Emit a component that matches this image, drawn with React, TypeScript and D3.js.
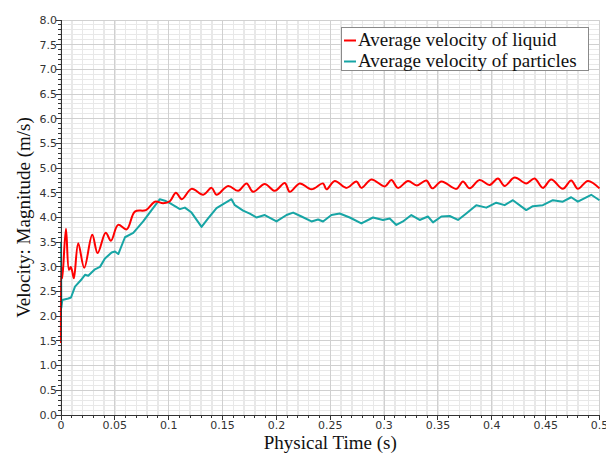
import React from 'react';
import * as d3 from 'd3';

const width = 606;
const height = 459;
const margin = { left: 61, right: 6, top: 20, bottom: 44 };

// time (s), velocity magnitude (m/s)
const liquidTime = [0, 0.0003, 0.0012, 0.0046, 0.0074, 0.009, 0.0105, 0.012, 0.016, 0.0216, 0.029, 0.034, 0.0415, 0.0464, 0.053, 0.061, 0.0686, 0.0789, 0.0872, 0.0949, 0.1011, 0.1067, 0.1122, 0.1212, 0.132, 0.1398, 0.1444, 0.1552, 0.1645, 0.1723, 0.1784, 0.1892, 0.1985, 0.2078, 0.2124, 0.2217, 0.2326, 0.2433, 0.2465, 0.2542, 0.265, 0.2743, 0.279, 0.2882, 0.3006, 0.3068, 0.3129, 0.3222, 0.3305, 0.3392, 0.3448, 0.3532, 0.3671, 0.3732, 0.3794, 0.3887, 0.398, 0.4057, 0.4119, 0.4212, 0.432, 0.4397, 0.4474, 0.4552, 0.4659, 0.4737, 0.4799, 0.4892, 0.5];
const liquidVel = [1.46, 3.0, 2.77, 3.77, 2.94, 3.0, 2.9, 2.77, 3.48, 2.98, 3.65, 3.28, 3.69, 3.53, 3.85, 3.76, 4.12, 4.15, 4.32, 4.29, 4.33, 4.5, 4.37, 4.58, 4.46, 4.6, 4.46, 4.64, 4.54, 4.69, 4.52, 4.68, 4.54, 4.7, 4.52, 4.69, 4.57, 4.69, 4.57, 4.74, 4.6, 4.73, 4.6, 4.77, 4.63, 4.76, 4.6, 4.74, 4.65, 4.75, 4.59, 4.73, 4.58, 4.73, 4.59, 4.76, 4.66, 4.79, 4.64, 4.81, 4.69, 4.79, 4.6, 4.77, 4.58, 4.75, 4.58, 4.74, 4.59];

const particleTime = [0, 0.0003, 0.0012, 0.0068, 0.0093, 0.013, 0.0192, 0.0223, 0.0253, 0.0315, 0.0362, 0.0408, 0.047, 0.0501, 0.0532, 0.0594, 0.0671, 0.0763, 0.0841, 0.0918, 0.0965, 0.1011, 0.1104, 0.115, 0.1212, 0.1305, 0.1366, 0.1444, 0.1521, 0.1583, 0.1614, 0.1691, 0.1753, 0.1815, 0.1892, 0.2001, 0.2094, 0.2155, 0.2233, 0.2326, 0.2387, 0.2433, 0.2511, 0.2588, 0.2681, 0.2789, 0.2897, 0.299, 0.3052, 0.3114, 0.3175, 0.3253, 0.333, 0.3407, 0.3454, 0.3532, 0.3609, 0.3686, 0.3763, 0.3856, 0.3949, 0.4042, 0.4119, 0.4196, 0.432, 0.4381, 0.4474, 0.4567, 0.4659, 0.4737, 0.4799, 0.4923, 0.5];
const particleVel = [3.51, 2.17, 2.33, 2.36, 2.38, 2.6, 2.75, 2.84, 2.82, 2.95, 3.0, 3.17, 3.29, 3.31, 3.26, 3.6, 3.69, 3.92, 4.15, 4.37, 4.34, 4.29, 4.17, 4.2, 4.1, 3.81, 3.98, 4.19, 4.29, 4.37, 4.25, 4.14, 4.08, 4.0, 4.05, 3.92, 4.05, 4.1, 4.02, 3.92, 3.96, 3.92, 4.05, 4.08, 4.0, 3.88, 4.0, 3.95, 3.98, 3.85, 3.92, 4.05, 3.95, 4.02, 3.9, 4.02, 4.03, 3.95, 4.08, 4.25, 4.2, 4.3, 4.25, 4.35, 4.15, 4.23, 4.25, 4.35, 4.32, 4.41, 4.32, 4.46, 4.35];

const xTickValues = [0, 0.05, 0.1, 0.15, 0.2, 0.25, 0.3, 0.35, 0.4, 0.45, 0.5];
const xTickLabels = ['0', '0.05', '0.1', '0.15', '0.2', '0.25', '0.3', '0.35', '0.4', '0.45', '0.5'];
const yTickValues = [0, 0.5, 1, 1.5, 2, 2.5, 3, 3.5, 4, 4.5, 5, 5.5, 6, 6.5, 7, 7.5, 8];
const yTickLabels = ['0.0', '0.5', '1.0', '1.5', '2.0', '2.5', '3.0', '3.5', '4.0', '4.5', '5.0', '5.5', '6.0', '6.5', '7.0', '7.5', '8.0'];

const seriesNames = ['Average velocity of liquid', 'Average velocity of particles'];
const seriesColors = ['#ff0000', '#17a5a5'];

export default function App() {
  const x = d3.scaleLinear().domain([0, 0.5]).range([margin.left, width - margin.right - 0.5]);
  const y = d3.scaleLinear().domain([0, 8]).range([height - margin.bottom, margin.top]);

  const minorX = d3.range(0, 51).map(i => i / 100);
  const minorY = d3.range(0, 81).map(i => i / 10);

  const liquid = liquidTime.map((t, i) => [t, liquidVel[i]] as [number, number]);
  const particles = particleTime.map((t, i) => [t, particleVel[i]] as [number, number]);

  const smooth = d3.line<[number, number]>().x(d => x(d[0])).y(d => y(d[1])).curve(d3.curveCatmullRom.alpha(0.5));
  const rough = d3.line<[number, number]>().x(d => x(d[0])).y(d => y(d[1])).curve(d3.curveLinear);

  const x0 = x(0), x1 = x(0.5), y0 = y(0), y1 = y(8);
  const tickFont = { fontFamily: '"DejaVu Sans", sans-serif', fontSize: 11, fill: '#333' };
  const serif = '"Liberation Serif", "Times New Roman", serif';

  return (
    <div style={{ position: 'absolute', left: 0, top: 0 }}>
      <svg width={width} height={height} style={{ display: 'block', background: '#fff' }}>
        {/* grid */}
        <g shapeRendering="crispEdges">
          {minorX.map((v, i) => (
            <line key={'mx' + i} x1={x(v)} x2={x(v)} y1={y1} y2={y0} stroke="#e8e8e8" strokeWidth={1.5} />
          ))}
          {minorY.map((v, i) => (
            <line key={'my' + i} x1={x0} x2={x1} y1={y(v)} y2={y(v)} stroke="#e8e8e8" strokeWidth={1} />
          ))}
          {xTickValues.map((v, i) => (
            <line key={'gx' + i} x1={x(v)} x2={x(v)} y1={y1} y2={y0} stroke="#d0d0d0" />
          ))}
          {yTickValues.map((v, i) => (
            <line key={'gy' + i} x1={x0} x2={x1} y1={y(v)} y2={y(v)} stroke="#d0d0d0" />
          ))}
        </g>

        {/* series */}
        <path d={rough(particles) || ''} fill="none" stroke={seriesColors[1]} strokeWidth={2} strokeLinejoin="round" />
        <path d={smooth(liquid) || ''} fill="none" stroke={seriesColors[0]} strokeWidth={2} strokeLinejoin="round" />

        {/* axes */}
        <g shapeRendering="crispEdges" stroke="#333">
          <line x1={x0} x2={x0} y1={y1} y2={y0} />
          <line x1={x0} x2={x1} y1={y0} y2={y0} />
          {minorY.map((v, i) => (
            <line key={'ty' + i} x1={x0 - (i % 5 === 0 ? 5 : 3)} x2={x0} y1={y(v)} y2={y(v)} />
          ))}
          {minorX.map((v, i) => (
            <line key={'tx' + i} x1={x(v)} x2={x(v)} y1={y0} y2={y0 + (i % 5 === 0 ? 5 : 3)} />
          ))}
        </g>
        {yTickValues.map((v, i) => (
          <text key={'ly' + i} x={x0 - 4} y={y(v)} dy="0.35em" textAnchor="end" {...tickFont}>
            {yTickLabels[i]}
          </text>
        ))}
        {xTickValues.map((v, i) => (
          <text key={'lx' + i} x={x(v)} y={y0 + 14} textAnchor="middle" {...tickFont}>
            {xTickLabels[i]}
          </text>
        ))}

        {/* axis titles */}
        <text x={(x0 + x1) / 2} y={449} textAnchor="middle" fontFamily={serif} fontSize={19} fill="#111">
          Physical Time (s)
        </text>
        <text transform={`translate(30, ${(y0 + y1) / 2}) rotate(-90)`} textAnchor="middle" fontFamily={serif} fontSize={19} fill="#111">
          Velocity: Magnitude (m/s)
        </text>

        {/* legend */}
        <g transform="translate(341, 27)">
          <rect x={0.5} y={0.5} width={247} height={43} fill="#fff" stroke="#8a8a8a" />
          {seriesNames.map((name, i) => (
            <g key={name} transform={`translate(0, ${i * 21})`}>
              <line x1={3} x2={15} y1={13.5} y2={13.5} stroke={seriesColors[i]} strokeWidth={2} />
              <text x={17} y={19} fontFamily={serif} fontSize={19} fill="#111">
                {name}
              </text>
            </g>
          ))}
        </g>
      </svg>
    </div>
  );
}
